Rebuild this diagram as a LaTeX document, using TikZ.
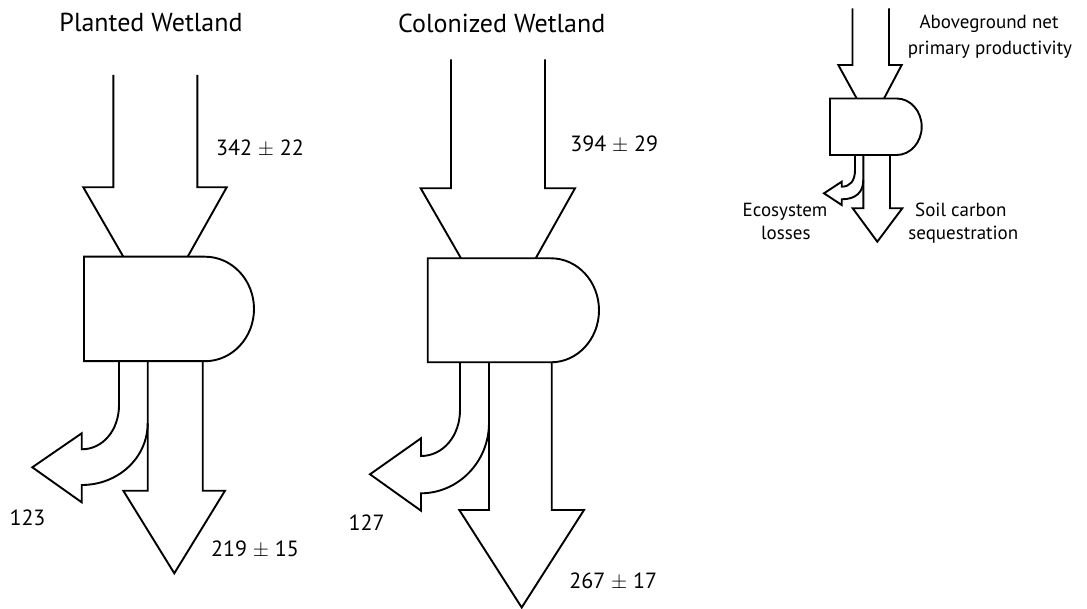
\documentclass[tikz,border=0pt]{standalone}
\usepackage{fontspec}
\setmainfont{PT Sans}
\begin{document}
\begin{tikzpicture}[x=1pt,y=-1pt,
  flow/.style={draw=black, line width=1.9pt, line join=miter},
  title/.style={font=\fontsize{26}{30}\selectfont, anchor=base, inner sep=0pt},
  val/.style={font=\fontsize{22}{26}\selectfont, anchor=base, inner sep=0pt},
  key/.style={font=\fontsize{19}{23}\selectfont, anchor=base, inner sep=0pt}]
\useasboundingbox (0,0) rectangle (1087,609);

% ---------------- Planted Wetland ----------------
\node[title] (t1) at (151,31.7) {Planted Wetland};
% input arrow
\draw[flow] (113.3,75) -- (113.3,187.3) -- (83.3,187.3) -- (123.3,256.7);
\draw[flow] (197.3,75) -- (197.3,187.3) -- (226.7,187.3) -- (187.7,256.7);
% storage box
\draw[flow] (205,256.7) -- (84,256.7) -- (84,361.2) -- (205,361.2)
  arc[start angle=90, end angle=-90, x radius=49, y radius=52.25] -- cycle;
% loss arrow
\draw[flow] (119,361.2) -- (119,405) .. controls (119,430) and (103,449.3) .. (81.7,449.3)
  -- (81.7,433.3) -- (32.3,467.3) -- (81.7,502.3) -- (81.7,485)
  .. controls (118,485) and (147.7,458) .. (147.7,423);
% sequestration arrow
\draw[flow] (147.7,361.2) -- (147.7,490.7) -- (123.3,490.7) -- (174.3,573.3)
  -- (225,490.7) -- (202.7,490.7) -- (202.7,361.2);
\node[val] (v1in) at (260,156) {342 $\pm$ 22};
\node[val] (v1loss) at (27.5,525) {123};
\node[val] (v1seq) at (255,556) {219 $\pm$ 15};

% ---------------- Colonized Wetland ----------------
\node[title] (t2) at (501.7,32.3) {Colonized Wetland};
\draw[flow] (451,59.3) -- (451,188.3) -- (420.7,188.3) -- (461,258.3);
\draw[flow] (545,59.3) -- (545,188.3) -- (575,188.3) -- (535.7,258.3);
\draw[flow] (551,258.3) -- (427.7,258.3) -- (427.7,362.3) -- (551,362.3)
  arc[start angle=90, end angle=-90, x radius=48, y radius=52] -- cycle;
\draw[flow] (460,362.3) -- (460,410) .. controls (460,436) and (443,456) .. (421,456)
  -- (421,438.3) -- (370,474.3) -- (421,510.7) -- (421,493.3)
  .. controls (458,493.3) and (489,462) .. (489,423);
\draw[flow] (489,362.3) -- (489,510) -- (459.3,510) -- (521.7,607.5)
  -- (584,510) -- (551.7,510) -- (551.7,362.3);
\node[val] (v2in) at (614.2,151.7) {394 $\pm$ 29};
\node[val] (v2loss) at (366.7,530.7) {127};
\node[val] (v2seq) at (613.3,588.3) {267 $\pm$ 17};

% ---------------- Legend ----------------
\draw[flow] (852.5,8.3) -- (852.5,65) -- (838.3,65) -- (856.7,98.5);
\draw[flow] (889,8.3) -- (889,65) -- (901.7,65) -- (884,98.5);
\draw[flow] (896.7,98.5) -- (830,98.5) -- (830,155) -- (896.7,155)
  arc[start angle=90, end angle=-90, x radius=25, y radius=28.25] -- cycle;
\draw[flow] (855,155) -- (855,170) .. controls (855,181) and (850,186.7) .. (841.7,186.7)
  -- (841.7,181.7) -- (824,193.3) -- (841.7,205) -- (841.7,199.3)
  .. controls (856,199.3) and (863.3,192) .. (863.3,180);
\draw[flow] (863.3,155) -- (863.3,208.3) -- (852.7,208.3) -- (877.3,241.7)
  -- (902.3,208.3) -- (890,208.3) -- (890,155);
\node[key] (kin1) at (989,28.3) {Aboveground net};
\node[key] (kin2) at (990,55) {primary productivity};
\node[key] (kloss1) at (785,216.7) {Ecosystem};
\node[key] (kloss2) at (785.8,240) {losses};
\node[key] (kseq1) at (960.8,216.7) {Soil carbon};
\node[key] (kseq2) at (963.3,240) {sequestration};
\end{tikzpicture}
\end{document}
